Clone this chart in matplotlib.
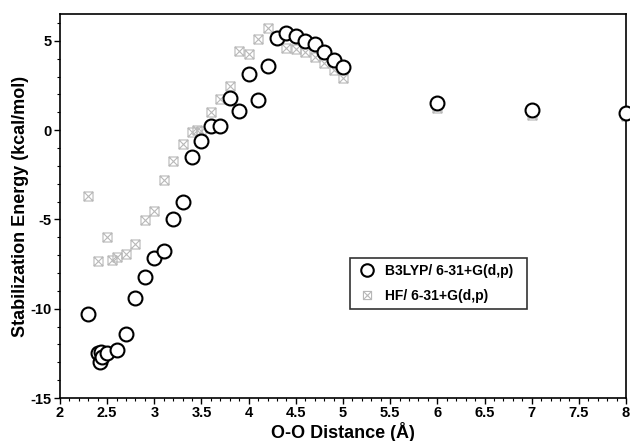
import matplotlib
matplotlib.use("Agg")
import matplotlib.pyplot as plt
from matplotlib.path import Path
from matplotlib.ticker import MultipleLocator

plt.rcParams['font.family'] = ['Liberation Sans', 'DejaVu Sans']

b3lyp_x = [2.3, 2.4, 2.42, 2.43, 2.45, 2.5, 2.6, 2.7, 2.8, 2.9, 3.0, 3.1, 3.2, 3.3,
           3.4, 3.5, 3.6, 3.7, 3.8, 3.9, 4.0, 4.1, 4.2, 4.3, 4.4, 4.5, 4.6, 4.7,
           4.8, 4.9, 5.0, 6.0, 7.0, 8.0]
b3lyp_y = [-10.3, -12.5, -13.0, -12.4, -12.7, -12.5, -12.3, -11.4, -9.4, -8.2, -7.15,
           -6.75, -4.95, -4.05, -1.5, -0.6, 0.22, 0.22, 1.8, 1.1, 3.15, 1.7, 3.6,
           5.17, 5.45, 5.3, 5.0, 4.8, 4.4, 3.95, 3.56, 1.5, 1.12, 0.95]

hf_x = [2.3, 2.4, 2.5, 2.55, 2.6, 2.7, 2.8, 2.9, 3.0, 3.1, 3.2, 3.3, 3.4, 3.45,
        3.5, 3.6, 3.7, 3.8, 3.9, 4.0, 4.1, 4.2, 4.4, 4.5, 4.6, 4.7, 4.8, 4.9,
        5.0, 6.0, 7.0, 8.0]
hf_y = [-3.7, -7.3, -6.0, -7.25, -7.1, -6.95, -6.35, -5.05, -4.5, -2.8, -1.75,
        -0.78, -0.1, 0.0, -0.05, 1.03, 1.72, 2.47, 4.44, 4.25, 5.1, 5.72, 4.6,
        4.57, 4.37, 4.09, 3.78, 3.37, 2.92, 1.22, 0.85, 0.8]

# crossed-square marker
verts = [(-1, -1), (1, -1), (1, 1), (-1, 1), (-1, -1),
         (-1, -1), (1, 1), (-1, 1), (1, -1)]
codes = [Path.MOVETO, Path.LINETO, Path.LINETO, Path.LINETO, Path.CLOSEPOLY,
         Path.MOVETO, Path.LINETO, Path.MOVETO, Path.LINETO]
xsquare = Path(verts, codes)

fig = plt.figure(figsize=(6.3, 4.41), dpi=100)
ax = fig.add_axes([0.0952, 0.0975, 0.8985, 0.8705])

ax.plot(hf_x, hf_y, linestyle='none', marker=xsquare, markersize=6.5,
        markerfacecolor='none', markeredgecolor='#b8b8b8', markeredgewidth=0.8,
        label='HF/ 6-31+G(d,p)  ', zorder=2)
ax.plot(b3lyp_x, b3lyp_y, linestyle='none', marker='o', markersize=10,
        markerfacecolor='white', markeredgecolor='black', markeredgewidth=1.5,
        label='B3LYP/ 6-31+G(d,p)  ', zorder=3, clip_on=False)

ax.set_xlim(2, 8)
ax.set_ylim(-15, 6.5)
ax.xaxis.set_minor_locator(MultipleLocator(0.1))
ax.yaxis.set_minor_locator(MultipleLocator(1))
ax.set_xticks([2, 2.5, 3, 3.5, 4, 4.5, 5, 5.5, 6, 6.5, 7, 7.5, 8])
ax.set_xticklabels(['2', '2.5', '3', '3.5', '4', '4.5', '5', '5.5', '6', '6.5', '7', '7.5', '8'])
ax.set_yticks([-15, -10, -5, 0, 5])
ax.set_yticklabels(['-15', '-10', '-5', '0', '5'])
ax.tick_params(which='major', direction='out', length=4, width=1, labelsize=10.5, pad=2)
ax.tick_params(which='minor', direction='out', length=2, width=0.8)
for lbl in ax.get_xticklabels() + ax.get_yticklabels():
    lbl.set_fontweight('bold')
for s in ax.spines.values():
    s.set_linewidth(1.2)

ax.set_xlabel('O-O Distance (Å)', fontsize=13, fontweight='bold', labelpad=1)
ax.set_ylabel('Stabilization Energy (kcal/mol)', fontsize=13, fontweight='bold', labelpad=1)

handles, labels = ax.get_legend_handles_labels()
leg = ax.legend(handles[::-1], labels[::-1], loc='upper left',
                bbox_to_anchor=(0.512, 0.365), frameon=True, fancybox=False,
                edgecolor='black', prop={'weight': 'bold', 'size': 10},
                handlelength=1.6, borderpad=0.45, labelspacing=0.75, handletextpad=0.5,
                borderaxespad=0, markerscale=0.9)
leg.get_frame().set_linewidth(1.2)

fig.savefig('out.png', dpi=100)
